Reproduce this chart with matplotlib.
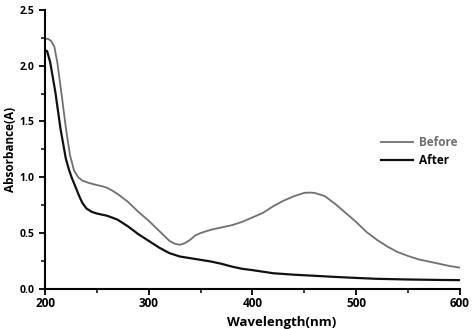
import numpy as np
import matplotlib.pyplot as plt
from matplotlib.ticker import MultipleLocator, FormatStrFormatter

plt.rcParams['font.family'] = ['Open Sans', 'DejaVu Sans']
plt.rcParams['font.weight'] = 'bold'

wl_before = [200, 203, 206, 209, 212, 216, 220, 224, 228, 232, 236, 242, 250, 255,
             260, 265, 270, 280, 290, 300, 310, 320, 325, 330, 335, 340, 345, 350,
             360, 370, 380, 390, 400, 410, 420, 430, 440, 450, 455, 460, 470, 480,
             490, 500, 510, 520, 530, 540, 550, 560, 570, 580, 590, 600]
abs_before = [2.24, 2.24, 2.22, 2.17, 2.02, 1.74, 1.45, 1.20, 1.06, 1.00, 0.97,
              0.95, 0.93, 0.92, 0.905, 0.88, 0.85, 0.78, 0.69, 0.61, 0.52, 0.43,
              0.405, 0.395, 0.41, 0.44, 0.48, 0.50, 0.53, 0.55, 0.57, 0.60, 0.64,
              0.68, 0.74, 0.79, 0.83, 0.86, 0.863, 0.86, 0.83, 0.76, 0.68, 0.60,
              0.51, 0.44, 0.38, 0.33, 0.295, 0.265, 0.245, 0.225, 0.205, 0.19]

wl_after = [200, 202, 205, 210, 215, 220, 223, 226, 230, 233, 236, 240, 245, 250,
            260, 270, 280, 290, 300, 310, 320, 330, 340, 350, 360, 370, 380, 390,
            400, 420, 440, 460, 480, 500, 520, 550, 580, 600]
abs_after = [2.14, 2.13, 2.03, 1.76, 1.43, 1.17, 1.07, 0.99, 0.90, 0.83, 0.77,
             0.72, 0.69, 0.675, 0.655, 0.62, 0.56, 0.49, 0.43, 0.37, 0.32, 0.29,
             0.275, 0.26, 0.245, 0.225, 0.20, 0.18, 0.168, 0.14, 0.127, 0.117,
             0.107, 0.098, 0.09, 0.084, 0.08, 0.078]

fig = plt.figure(figsize=(4.74, 3.29), dpi=100)
ax = fig.add_axes([0.095, 0.122, 0.875, 0.848])

ax.plot(wl_before, abs_before, color='#707070', lw=1.3, label='Before')
ax.plot(wl_after, abs_after, color='#111111', lw=1.6, label='After')

ax.set_xlim(200, 600)
ax.set_ylim(0, 2.5)
ax.xaxis.set_major_locator(MultipleLocator(100))
ax.xaxis.set_minor_locator(MultipleLocator(50))
ax.yaxis.set_major_locator(MultipleLocator(0.5))
ax.yaxis.set_minor_locator(MultipleLocator(0.25))
ax.yaxis.set_major_formatter(FormatStrFormatter('%.1f'))
ax.spines['top'].set_visible(False)
ax.spines['right'].set_visible(False)
ax.spines['left'].set_linewidth(1.5)
ax.spines['bottom'].set_linewidth(1.5)
ax.tick_params(which='major', direction='out', length=4, width=1.3)
ax.tick_params(which='minor', direction='out', length=3, width=1.1)
ax.tick_params(axis='x', labelsize=8.5, pad=2)
ax.tick_params(axis='y', labelsize=7.5)

ax.set_xlabel('Wavelength(nm)', fontsize=9.5, fontweight='bold')
ax.xaxis.set_label_coords(0.57, -0.097)
ax.set_ylabel('Absorbance(A)', fontsize=8.5, fontweight='bold')
ax.yaxis.set_label_coords(-0.068, 0.5)

leg = ax.legend(loc='upper right', bbox_to_anchor=(1.02, 0.585), frameon=False,
                fontsize=8.5, handlelength=2.7, handletextpad=0.5, labelspacing=0.4)
leg.get_texts()[0].set_color('#707070')

plt.savefig('out.png', dpi=100)
